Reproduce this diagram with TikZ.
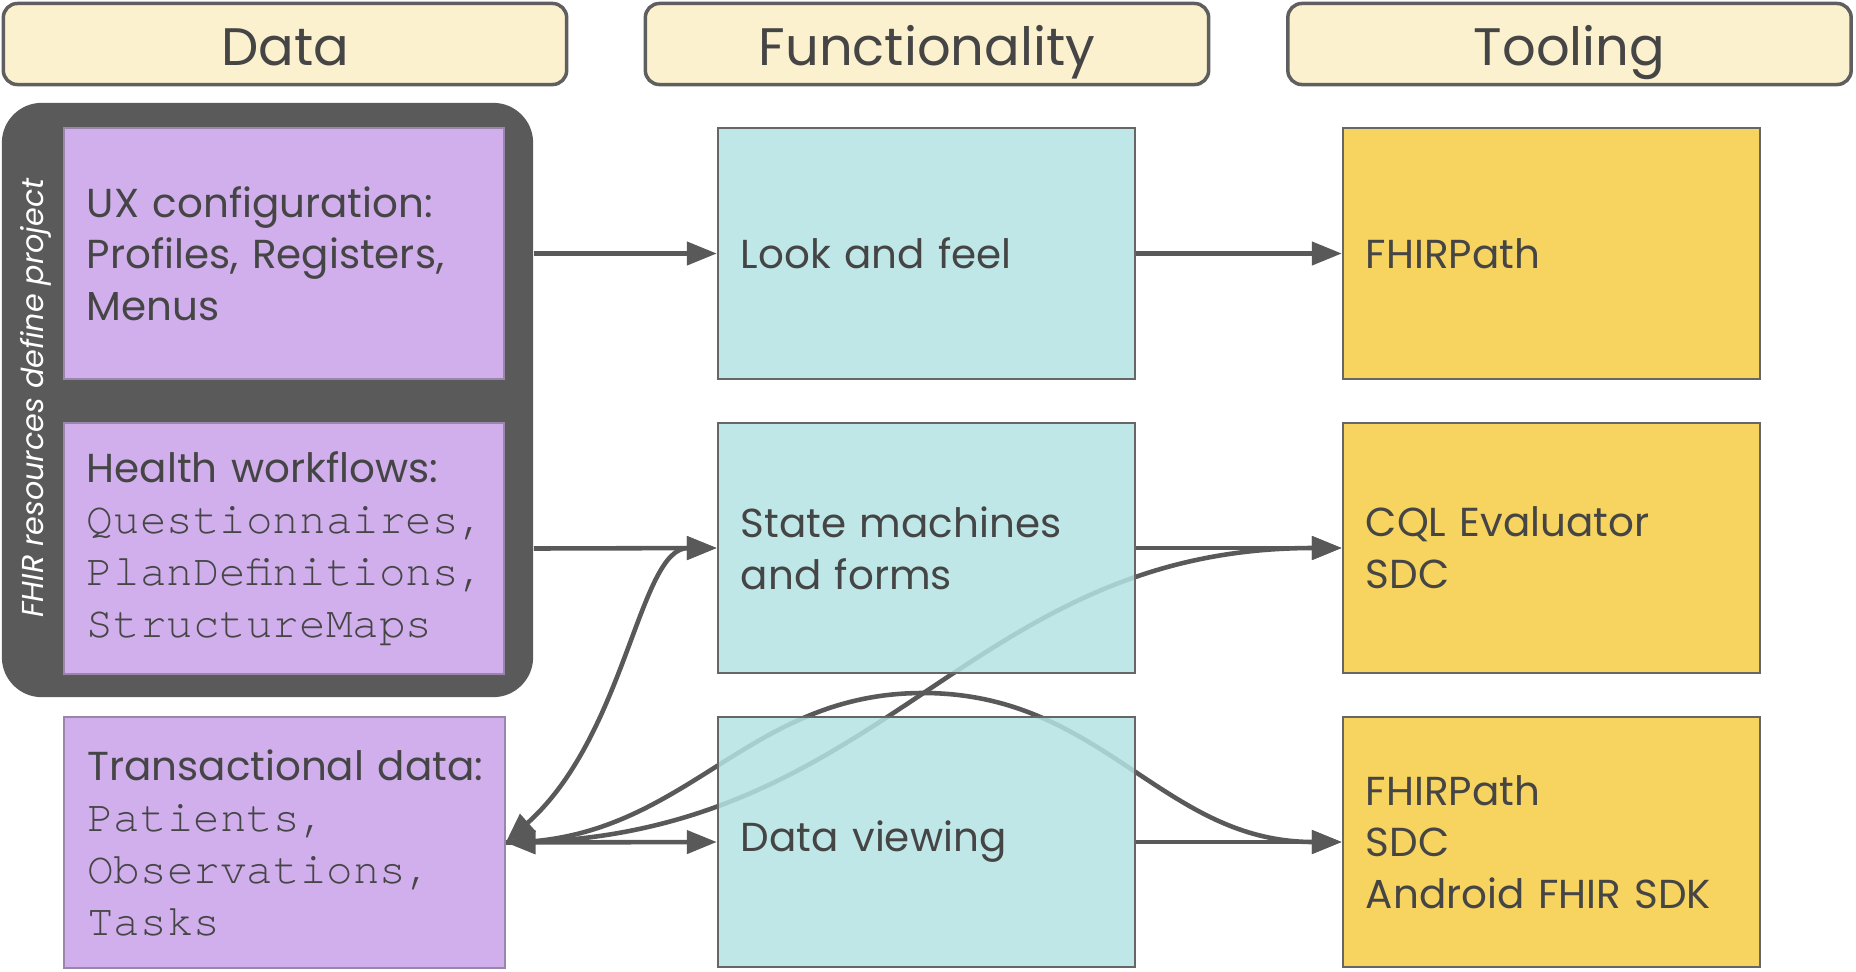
\documentclass[tikz,border=0pt]{standalone}
\usepackage{fontspec}
\setmainfont{Poppins}
\setmonofont{texgyrecursor-regular.otf}
\usetikzlibrary{arrows.meta,backgrounds}
\definecolor{hdrfill}{HTML}{FCF1CF}
\definecolor{hdrline}{HTML}{5F5F5F}
\definecolor{grpfill}{HTML}{5A5A5A}
\definecolor{purp}{HTML}{D0AFEC}
\definecolor{purpline}{HTML}{9A86AA}
\definecolor{cyanfill}{HTML}{B5E3E4}
\definecolor{yellfill}{HTML}{F6CB43}
\definecolor{boxline}{HTML}{666666}
\definecolor{arrgray}{HTML}{595959}
\definecolor{txt}{HTML}{454545}
\newcommand{\monolines}{\fontsize{12.6}{14.7}\ttfamily}
\begin{document}
\begin{tikzpicture}[x=0.01cm,y=-0.01cm,
  >={Triangle[length=8.5pt,width=6.5pt]},
  hdr/.style={draw=hdrline,line width=1pt,fill=hdrfill,rounded corners=4pt,
    minimum width=5.63cm,minimum height=0.81cm,text height=12pt,text depth=0pt,
    text=txt,font=\fontsize{15}{18}\selectfont},
  card/.style={draw=boxline,line width=0.6pt,minimum height=2.5cm,inner xsep=0.23cm,
    align=left,text=txt,font=\fontsize{11.5}{14.7}\selectfont},
  datacard/.style={card,fill=purp,draw=purpline,minimum width=4.4cm,text width=3.94cm},
  funccard/.style={card,fill=cyanfill,fill opacity=0.85,text opacity=1,
    minimum width=4.17cm,text width=3.71cm},
  toolcard/.style={card,fill=yellfill,fill opacity=0.85,text opacity=1,
    minimum width=4.17cm,text width=3.71cm},
  arr/.style={draw=arrgray,line width=1.3pt}]
\useasboundingbox (0,0) rectangle (1856,972);

% column headers
\node[hdr] (hdata) at (285,44) {Data};
\node[hdr] (hfunc) at (927,44) {Functionality};
\node[hdr] (htool) at (1569.5,44) {Tooling};

% data column
\node[fill=grpfill,rounded corners=0.4cm,minimum width=5.31cm,minimum height=5.94cm] (grp) at (267.5,400) {};
\node[rotate=90,text=white,font=\fontsize{8.6}{10}\selectfont\itshape] (grplabel) at (36,398) {FHIR resources define project};
\node[datacard] (ux) at (284,253.5) {UX configuration:\\Profiles, Registers,\\Menus};
\node[datacard] (hw) at (284,548.5) {Health workflows:\\\monolines Questionnaires,\\PlanDefinitions,\\StructureMaps};
\node[datacard] (trans) at (284.5,842.5) {\mbox{Transactional data:}\\\monolines Patients,\\Observations,\\Tasks};

% functionality column
\node[funccard] (look) at (926.5,253.5) {Look and feel};
\node[funccard] (state) at (926.5,548) {State machines\\and forms};
\node[funccard] (view) at (926.5,842) {Data viewing};

% tooling column
\node[toolcard] (tool1) at (1551.5,253.5) {FHIRPath};
\node[toolcard] (tool2) at (1551.5,548) {CQL Evaluator\\SDC};
\node[toolcard] (tool3) at (1551.5,842) {FHIRPath\\SDC\\Android FHIR SDK};

% straight links
\draw[arr,->] (ux.east -| grp.east) -- (look.west);
\draw[arr,->] (look.east) -- (tool1.west);
\draw[arr,->] (hw.east -| grp.east) -- (state.west);
\draw[arr,->] (state.east) -- (tool2.west);
\draw[arr,<->] (trans.east) -- (view.west);
\draw[arr,->] (view.east) -- (tool3.west);

% curved links, behind the boxes
\coordinate (peak) at (923,693);
\begin{scope}[on background layer]
\draw[arr,<->] (trans.east) .. controls +(121,-108) and +(-78,0) .. (state.west);
\draw[arr,->] (trans.east) .. controls +(380,0) and +(-380,0) .. (tool2.west);
\draw[arr,->] (trans.east) .. controls +(180,0) and +(-180,0) .. (peak)
  .. controls +(180,0) and +(-180,0) .. (tool3.west);
\end{scope}
\end{tikzpicture}
\end{document}
